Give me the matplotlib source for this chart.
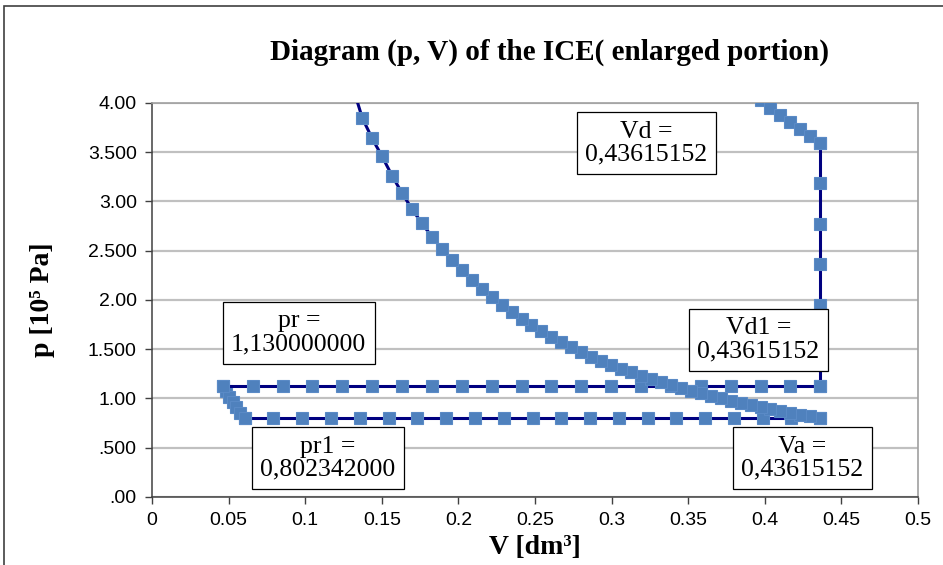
import numpy as np
import matplotlib
matplotlib.use('Agg')
import matplotlib.pyplot as plt
from matplotlib.patches import Rectangle

# cycle points, V in dm3, p in 1e5 Pa
# compression line, Va -> top
v_comp = [0.4362, 0.4297, 0.4232, 0.4167, 0.4102, 0.4037, 0.3972, 0.3907, 0.3842, 0.3777,
          0.3712, 0.3647, 0.3582, 0.3517, 0.3452, 0.3387, 0.3322, 0.3257, 0.3192, 0.3127,
          0.3062, 0.2997, 0.2932, 0.2867, 0.2802, 0.2737, 0.2672, 0.2607, 0.2542, 0.2477,
          0.2412, 0.2347, 0.2282, 0.2217, 0.2152, 0.2087, 0.2022, 0.1957, 0.1892, 0.1827,
          0.1762, 0.1697, 0.1632, 0.1567, 0.1502, 0.1437, 0.1372, 0.1307]
p_comp = [0.802, 0.819, 0.836, 0.854, 0.873, 0.892, 0.912, 0.933, 0.955, 0.977,
          1.001, 1.025, 1.051, 1.078, 1.105, 1.135, 1.165, 1.197, 1.230, 1.266,
          1.303, 1.341, 1.382, 1.425, 1.471, 1.519, 1.570, 1.624, 1.681, 1.742,
          1.806, 1.875, 1.949, 2.028, 2.112, 2.202, 2.300, 2.405, 2.519, 2.643,
          2.777, 2.924, 3.085, 3.262, 3.457, 3.640, 3.850, 4.182]

# end of expansion, top -> Vd
v_exp = [0.3972, 0.4037, 0.4102, 0.4167, 0.4232, 0.4297, 0.4362]
p_exp = [4.030, 3.950, 3.877, 3.805, 3.735, 3.665, 3.594]

# blow-down at Vd, Vd -> Vd1
v_blow = [0.4362, 0.4362, 0.4362, 0.4362, 0.4362, 0.4362, 0.4362]
p_blow = [3.594, 3.184, 2.774, 2.364, 1.954, 1.544, 1.130]

# exhaust stroke at pr
v_exh = [0.4362, 0.4167, 0.3972, 0.3777, 0.3582, 0.3387, 0.3192, 0.2997, 0.2802, 0.2607,
         0.2412, 0.2217, 0.2022, 0.1827, 0.1632, 0.1437, 0.1242, 0.1047, 0.0852, 0.0657,
         0.0462]
p_exh = [1.13] * len(v_exh)

# pr -> pr1
v_drop = [0.0462, 0.0480, 0.0503, 0.0527, 0.0550, 0.0575, 0.0605]
p_drop = [1.130, 1.075, 1.020, 0.966, 0.912, 0.857, 0.802]

# intake stroke at pr1
v_int = [0.0605, 0.0793, 0.0981, 0.1168, 0.1356, 0.1544, 0.1732, 0.1920, 0.2108, 0.2296,
         0.2484, 0.2671, 0.2859, 0.3047, 0.3235, 0.3423, 0.3611, 0.3799, 0.3987, 0.4174,
         0.4362]
p_int = [0.802] * len(v_int)

Vd = 0.43615152
pr = 1.13
pr1 = 0.802342

plt.rcParams['font.family'] = ['Liberation Serif']

fig = plt.figure(figsize=(9.43, 5.65), dpi=100)
ax = fig.add_axes([0.1612, 0.1204, 0.8123, 0.6973])

line_kw = dict(color='#000080', lw=2.2, marker='s', ms=9, mfc='#4F81BD',
               mec='#5A8AC6', mew=0.8, clip_on=True, zorder=3)
for vv, pp in [(v_int, p_int), (v_drop, p_drop), (v_exh, p_exh),
               (v_blow, p_blow), (v_exp, p_exp), (v_comp, p_comp)]:
    ax.plot(vv, pp, **line_kw)

ax.set_xlim(0, 0.5)
ax.set_ylim(0, 4.0)
ax.set_xticks(np.arange(0, 0.51, 0.05))
ax.set_xticklabels(['0', '0.05', '0.1', '0.15', '0.2', '0.25', '0.3', '0.35', '0.4', '0.45', '0.5'])
ax.set_yticks(np.arange(0, 4.01, 0.5))
ax.set_yticklabels(['.00', '.500', '1.00', '1.500', '2.00', '2.500', '3.00', '3.500', '4.00'])
for lab in ax.get_xticklabels() + ax.get_yticklabels():
    lab.set_family('Liberation Sans')
    lab.set_fontsize(14)
ax.tick_params(direction='out', length=5, width=1, color='#404040', pad=6)
ax.yaxis.grid(True, color='#c0c0c0', lw=1.6)
ax.set_axisbelow(True)
for s in ['left', 'bottom']:
    ax.spines[s].set_color('#404040')
    ax.spines[s].set_linewidth(1.1)
for s in ['top', 'right']:
    ax.spines[s].set_color('#a0a0a0')
    ax.spines[s].set_linewidth(1.2)

ax.set_xlabel('V [dm³]', fontsize=20, fontweight='bold', labelpad=4)
ax.set_ylabel('p [10⁵ Pa]', fontsize=20, fontweight='bold', labelpad=24)

fig.text(0.583, 0.908, 'Diagram (p, V) of the ICE( enlarged portion)',
         ha='center', va='center', fontsize=21, fontweight='bold')

# data labels
box = dict(boxstyle='square,pad=0.33', fc='white', ec='black', lw=0.9)
labels = [
    ('Vd =\n0,43615152', (Vd, p_blow[0]), (-174, 0)),
    ('Vd1 =\n0,43615152', (Vd, p_blow[-1]), (-62, 46)),
    ('pr =\n1,130000000', (v_exh[-1], pr), (76, 53)),
    ('pr1 =\n0,802342000', (v_int[0], pr1), (83, -40)),
    ('Va =\n0,43615152', (Vd, pr1), (-18, -40)),
]
for txt, xy, off in labels:
    ax.annotate(txt, xy=xy, xytext=off, textcoords='offset pixels',
                ha='center', va='center', fontsize=18.5, linespacing=1.05,
                bbox=box, zorder=5, annotation_clip=False)

# chart frame
fig.patches.append(Rectangle((4 / 943, -0.05), 2.0, 1.0 - 6 / 565 + 0.05,
                             transform=fig.transFigure, fill=False,
                             ec='#404040', lw=1.2))

fig.savefig('out.png', dpi=100)
